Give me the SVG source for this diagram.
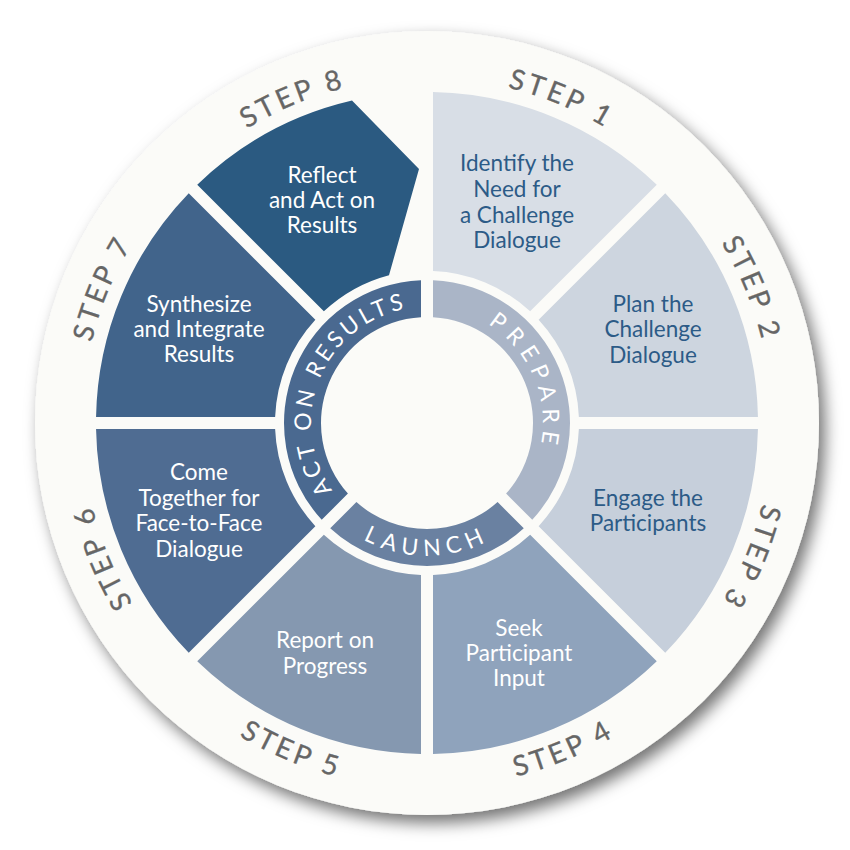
<svg xmlns="http://www.w3.org/2000/svg" xmlns:xlink="http://www.w3.org/1999/xlink" width="850" height="850" viewBox="0 0 850 850">
<defs>
<filter id="shadow" x="-10%" y="-10%" width="125%" height="125%">
<feDropShadow dx="6" dy="8" stdDeviation="8" flood-color="#000" flood-opacity="0.55"/>
</filter>
<style>
.lbl{font-family:Lato,"Noto Sans","Liberation Sans",sans-serif;font-size:22.5px;text-anchor:middle}
.dk{fill:#2c5b87}
.lt{fill:#ffffff}
.step{font-family:Lato,"Noto Sans","Liberation Sans",sans-serif;font-size:28px;fill:#666666;stroke:#666666;stroke-width:0.3px;letter-spacing:3.5px;text-anchor:middle}
.band{font-family:Lato,"Noto Sans","Liberation Sans",sans-serif;font-size:23px;fill:#ffffff;text-anchor:middle}
</style>
<path id="p1" d="M323.26 93.97 A345 345 0 0 1 733.02 263.71"/>
<path id="p2" d="M586.29 116.98 A345 345 0 0 1 756.03 526.74"/>
<path id="p3" d="M756.03 319.26 A345 345 0 0 1 586.29 729.02"/>
<path id="p4" d="M319.05 771.10 A365 365 0 0 0 750.75 591.52"/>
<path id="p5" d="M103.25 591.52 A365 365 0 0 0 536.76 771.10"/>
<path id="p6" d="M267.71 729.02 A345 345 0 0 1 97.97 319.26"/>
<path id="p7" d="M97.97 526.74 A345 345 0 0 1 267.71 116.98"/>
<path id="p8" d="M120.98 263.71 A345 345 0 0 1 530.74 93.97"/>
<path id="pPrep" d="M427 307 A116 116 0 0 1 509.02 505.02"/>
<path id="pLaunch" d="M333.10 516.90 A132.8 132.8 0 0 0 520.90 516.90"/>
<path id="pAct" d="M344.98 505.02 A116 116 0 0 1 427 307"/>
</defs>
<rect width="850" height="850" fill="#ffffff"/>
<circle id="disk" cx="427" cy="423" r="392" fill="#fbfbf8" filter="url(#shadow)"/>

<g id="step1">
<path d="M433 92.05 A331 331 0 0 1 656.77 184.74 L530.15 311.36 A152 152 0 0 0 433 271.12 Z" fill="#d8dee6"/>
<text class="lbl dk"><tspan x="517" y="171">Identify the</tspan><tspan x="517" y="197">Need for</tspan><tspan x="517" y="223">a Challenge</tspan><tspan x="517" y="248">Dialogue</tspan></text>
<text class="step"><textPath href="#p1" startOffset="50%">STEP 1</textPath></text>
</g>
<g id="step2">
<path d="M665.26 193.23 A331 331 0 0 1 757.95 417 L578.88 417 A152 152 0 0 0 538.64 319.85 Z" fill="#cdd5df"/>
<text class="lbl dk"><tspan x="653" y="312">Plan the</tspan><tspan x="653" y="337">Challenge</tspan><tspan x="653" y="363">Dialogue</tspan></text>
<text class="step"><textPath href="#p2" startOffset="50%">STEP 2</textPath></text>
</g>
<g id="step3">
<path d="M757.95 429 A331 331 0 0 1 665.26 652.77 L538.64 526.15 A152 152 0 0 0 578.88 429 Z" fill="#c6cfdb"/>
<text class="lbl dk"><tspan x="648" y="506">Engage the</tspan><tspan x="648" y="531">Participants</tspan></text>
<text class="step"><textPath href="#p3" startOffset="50%">STEP 3</textPath></text>
</g>
<g id="step4">
<path d="M656.77 661.26 A331 331 0 0 1 433 753.95 L433 574.88 A152 152 0 0 0 530.15 534.64 Z" fill="#8fa3bc"/>
<text class="lbl lt"><tspan x="519" y="636">Seek</tspan><tspan x="519" y="661">Participant</tspan><tspan x="519" y="686">Input</tspan></text>
<text class="step"><textPath href="#p4" startOffset="50%">STEP 4</textPath></text>
</g>
<g id="step5">
<path d="M421 753.95 A331 331 0 0 1 197.23 661.26 L323.85 534.64 A152 152 0 0 0 421 574.88 Z" fill="#8598b0"/>
<text class="lbl lt"><tspan x="325" y="648">Report on</tspan><tspan x="325" y="674">Progress</tspan></text>
<text class="step"><textPath href="#p5" startOffset="50%">STEP 5</textPath></text>
</g>
<g id="step6">
<path d="M188.74 652.77 A331 331 0 0 1 96.05 429 L275.12 429 A152 152 0 0 0 315.36 526.15 Z" fill="#4f6c92"/>
<text class="lbl lt"><tspan x="199" y="480">Come</tspan><tspan x="199" y="506">Together for</tspan><tspan x="199" y="531">Face-to-Face</tspan><tspan x="199" y="557">Dialogue</tspan></text>
<text class="step"><textPath href="#p6" startOffset="50%">STEP 6</textPath></text>
</g>
<g id="step7">
<path d="M96.05 417 A331 331 0 0 1 188.74 193.23 L315.36 319.85 A152 152 0 0 0 275.12 417 Z" fill="#41648b"/>
<text class="lbl lt"><tspan x="199" y="312">Synthesize</tspan><tspan x="199" y="337">and Integrate</tspan><tspan x="199" y="362">Results</tspan></text>
<text class="step"><textPath href="#p7" startOffset="50%">STEP 7</textPath></text>
</g>
<g id="step8">
<path d="M197.23 184.74 A331 331 0 0 1 352 100.6 L419 169 L389 275.2 A152 152 0 0 0 323.85 311.36 Z" fill="#2b5a81"/>
<text class="lbl lt"><tspan x="322" y="183">Reflect</tspan><tspan x="322" y="208">and Act on</tspan><tspan x="322" y="233">Results</tspan></text>
<text class="step"><textPath href="#p8" startOffset="50%">STEP 8</textPath></text>
</g>

<g id="phase-prepare">
<path d="M433 280.13 A143 143 0 0 1 532.27 519.79 L506.08 493.59 A106 106 0 0 0 433 317.17 Z" fill="#aab5c7"/>
<text class="band" style="letter-spacing:6.8px"><textPath href="#pPrep" startOffset="50%">PREPARE</textPath></text>
</g>
<g id="phase-launch">
<path d="M523.79 528.27 A143 143 0 0 1 330.22 528.27 L356.41 502.08 A106 106 0 0 0 497.59 502.08 Z" fill="#6a81a1"/>
<text class="band" style="letter-spacing:6.4px"><textPath href="#pLaunch" startOffset="50%">LAUNCH</textPath></text>
</g>
<g id="phase-act">
<path d="M321.73 519.79 A143 143 0 0 1 421 280.13 L421 317.17 A106 106 0 0 0 347.92 493.59 Z" fill="#4a6990"/>
<text class="band" style="letter-spacing:3.6px"><textPath href="#pAct" startOffset="50%">ACT ON RESULTS</textPath></text>
</g>
<g id="connectors"/>
</svg>
